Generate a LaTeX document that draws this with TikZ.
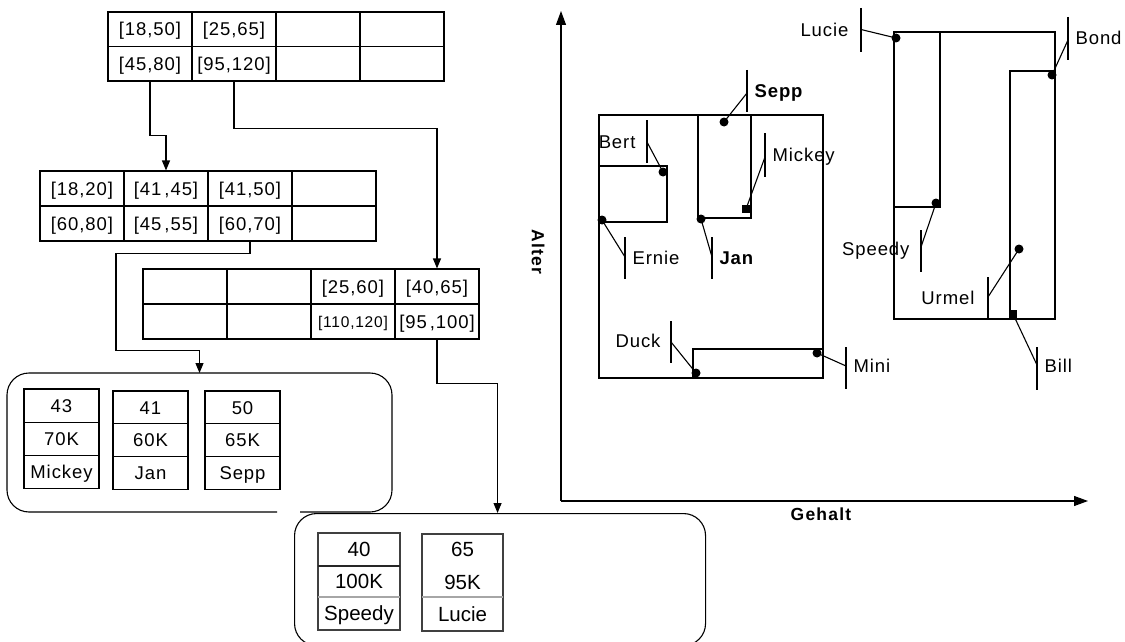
\documentclass[tikz,border=0pt]{standalone}
\usepackage{fontspec}
\setmainfont{Liberation Sans}
\newfontfamily\lsp[LetterSpace=5]{Liberation Sans}
\newfontfamily\lspb[LetterSpace=5]{Liberation Sans Bold}
\newfontfamily\lspa[LetterSpace=7]{Liberation Sans Bold}
\newcommand\fa{\lsp\fontsize{18.5}{21}\selectfont}
\newcommand\fsm{\lsp\fontsize{15.5}{18}\selectfont}
\newcommand\fbig{\fontsize{20.5}{24}\selectfont}
\newcommand\fbold{\lspb\fontsize{18.5}{21}\selectfont}
\newcommand\faxis{\lspa\fontsize{17.5}{20}\selectfont}
\usetikzlibrary{arrows.meta}
\begin{document}
\begin{tikzpicture}[x=1pt,y=-1pt,line width=1.1pt,
  cell/.style={draw, minimum width=84pt, minimum height=34.5pt, inner sep=0pt,
    font=\fa, text height=13.3pt, text depth=0pt},
  rec/.style={draw, minimum width=75pt, minimum height=33.3pt, inner sep=0pt,
    font=\fa, text height=13.3pt, text depth=0pt},
  bigtxt/.style={inner sep=0pt, font=\fbig, text height=14.7pt, text depth=0pt},
  lbl/.style={inner sep=0pt, font=\fa, text height=13.3pt, text depth=0pt},
  lblb/.style={inner sep=0pt, font=\fbold, text height=13.3pt, text depth=0pt},
  arr/.style={-{Triangle[length=10pt,width=8pt]}},
  axarr/.style={-{Triangle[length=14pt,width=10pt]}},
  dot/.style={circle, fill, inner sep=0pt, minimum size=9pt},
  sqdot/.style={rectangle, fill, inner sep=0pt, minimum size=8.5pt}
]
\useasboundingbox (0,0) rectangle (1125,642);

% ---------- top table ----------
\node[cell] (t1-11) at (150,29.25) {[18,50]};
\node[cell] (t1-12) at (234,29.25) {[25,65]};
\node[cell] (t1-13) at (318,29.25) {};
\node[cell] (t1-14) at (402,29.25) {};
\node[cell] (t1-21) at (150,63.75) {[45,80]};
\node[cell] (t1-22) at (234,63.75) {[95,120]};
\node[cell] (t1-23) at (318,63.75) {};
\node[cell] (t1-24) at (402,63.75) {};

% ---------- second table ----------
\node[cell, minimum height=35pt] (t2-11) at (82,188.5) {[18,20]};
\node[cell, minimum height=35pt] (t2-12) at (166,188.5) {[41\,,45]};
\node[cell, minimum height=35pt] (t2-13) at (250,188.5) {[41,50]};
\node[cell, minimum height=35pt] (t2-14) at (334,188.5) {};
\node[cell, minimum height=35pt] (t2-21) at (82,223.5) {[60,80]};
\node[cell, minimum height=35pt] (t2-22) at (166,223.5) {[45\,,55]};
\node[cell, minimum height=35pt] (t2-23) at (250,223.5) {[60,70]};
\node[cell, minimum height=35pt] (t2-24) at (334,223.5) {};

% ---------- third table ----------
\node[cell, minimum height=35pt] (t3-11) at (185,286.5) {};
\node[cell, minimum height=35pt] (t3-12) at (269,286.5) {};
\node[cell, minimum height=35pt] (t3-13) at (353,286.5) {[25,60]};
\node[cell, minimum height=35pt] (t3-14) at (437,286.5) {[40,65]};
\node[cell, minimum height=35pt] (t3-21) at (185,321.5) {};
\node[cell, minimum height=35pt] (t3-22) at (269,321.5) {};
\node[cell, minimum height=35pt, font=\fsm, text height=11.1pt] (t3-23) at (353,321.5) {[110,120]};
\node[cell, minimum height=35pt] (t3-24) at (437,321.5) {[95\,,100]};

% ---------- leaf box 1 ----------
\draw[rounded corners=22pt] (277,512) -| (7,373) -| (392,512) -- (300,512);
\coordinate (box1top) at (199.5,373);
\node[rec] (r1-1) at (61.5,405.65) {43};
\node[rec] (r1-2) at (61.5,438.95) {70K};
\node[rec] (r1-3) at (61.5,472.25) {Mickey};
\node[rec, minimum height=32.7pt] (r2-1) at (150.5,407.35) {41};
\node[rec, minimum height=32.7pt] (r2-2) at (150.5,440.05) {60K};
\node[rec, minimum height=32.7pt] (r2-3) at (150.5,472.75) {Jan};
\node[rec, minimum height=32.7pt] (r3-1) at (242.5,407.35) {50};
\node[rec, minimum height=32.7pt] (r3-2) at (242.5,440.05) {65K};
\node[rec, minimum height=32.7pt] (r3-3) at (242.5,472.75) {Sepp};

% ---------- leaf box 2 ----------
\node[draw, fill=white, rounded corners=22pt, minimum width=411pt, minimum height=132pt,
  inner sep=0pt, anchor=north west] (box2) at (294,513) {};
\node[draw=black!75, minimum width=82pt, minimum height=97pt, inner sep=0pt] (sp) at (359,581.5) {};
\draw[line width=2pt, black!85] (318,566) -- (400,566);
\draw[black!35] (318,597) -- (400,597);
\node[bigtxt] (sp1) at (359,549.5) {40};
\node[bigtxt] (sp2) at (359,581.5) {100K};
\node[bigtxt] (sp3) at (359,613.5) {Speedy};
\node[draw=black!75, minimum width=81pt, minimum height=97pt, inner sep=0pt] (lu) at (462.5,582.5) {};
\draw[black!35] (422,597) -- (503,597);
\node[bigtxt] (lu1) at (462.5,549.5) {65};
\node[bigtxt] (lu2) at (462.5,582) {95K};
\node[bigtxt] (lu3) at (462.5,614) {Lucie};

% ---------- tree connectors ----------
\draw[arr] (t1-21.south) -- ++(0,54) -| (t2-12.north);
\draw[arr] (t1-22.south) -- ++(0,47) -| (t3-14.north);
\draw[arr] (t2-23.south) -- ++(0,12) -- ++(-134,0) -- ++(0,97) -| (box1top);
\draw[arr] (t3-24.south) -- ++(0,44) -| ([xshift=-2.5pt]box2.north);

% ---------- chart axes ----------
\coordinate (O) at (561,501);
\coordinate (ytip) at (561,11);
\coordinate (xtip) at (1088,501);
\draw[axarr] (O) -- (ytip);
\draw[axarr] (O) -- (xtip);
\node[inner sep=0pt, font=\faxis, rotate=-90] (alter) at (538,252) {Alter};
\node[inner sep=0pt, font=\faxis] (gehalt) at (821,514) {Gehalt};

% ---------- rectangles ----------
\draw (599,115) rectangle (823,378);
\draw (599,166) -| (667,222) -- (599,222);
\draw (698,115) -- (698,218) -| (751,115);
\draw (823,349) -- (693,349) -- (693,378);
\draw (894,32) rectangle (1055,319);
\draw (940,32) -- (940,207) -- (894,207);
\draw (1055,71) -- (1010,71) -- (1010,319);

% ---------- points and labels ----------
% Sepp
\node[dot] (dSepp) at (724,122) {};
\coordinate (bSepp) at (747,93);
\draw (747,70) -- (747,112);
\draw (dSepp.center) -- (bSepp);
\node[lblb, anchor=west] (lSepp) at (754,91) {Sepp};
% Bert
\node[dot] (dBert) at (663,172) {};
\coordinate (bBert) at (647,142);
\draw (647,120) -- (647,163);
\draw (dBert.center) -- (bBert);
\node[lbl, anchor=east] (lBert) at (636,142) {Bert};
% Mickey
\node[sqdot] (dMickey) at (746,209) {};
\coordinate (bMickey) at (765,157);
\draw (765,133) -- (765,177);
\draw (dMickey.center) -- (bMickey);
\node[lbl, anchor=west] (lMickey) at (772,155) {Mickey};
% Ernie
\node[dot] (dErnie) at (602,220) {};
\coordinate (bErnie) at (625,257);
\draw (625,237) -- (625,279);
\draw (dErnie.center) -- (bErnie);
\node[lbl, anchor=west] (lErnie) at (632,258) {Ernie};
% Jan
\node[dot] (dJan) at (701,219) {};
\coordinate (bJan) at (712,257);
\draw (712,237) -- (712,279);
\draw (dJan.center) -- (bJan);
\node[lblb, anchor=west] (lJan) at (719,258) {Jan};
% Duck
\node[dot] (dDuck) at (696,373) {};
\coordinate (bDuck) at (671,342);
\draw (671,321) -- (671,363);
\draw (dDuck.center) -- (bDuck);
\node[lbl, anchor=east] (lDuck) at (661,341) {Duck};
% Mini
\node[dot] (dMini) at (817,353) {};
\coordinate (bMini) at (846,366);
\draw (846,347) -- (846,389);
\draw (dMini.center) -- (bMini);
\node[lbl, anchor=west] (lMini) at (853,366) {Mini};
% Lucie
\node[dot] (dLucie) at (896,38) {};
\coordinate (bLucie) at (861,29.5);
\draw (861,8) -- (861,52);
\draw (dLucie.center) -- (bLucie);
\node[lbl, anchor=east] (lLucie) at (849,30) {Lucie};
% Bond
\node[dot] (dBond) at (1052,75) {};
\coordinate (bBond) at (1068,40);
\draw (1068,17) -- (1068,60);
\draw (dBond.center) -- (bBond);
\node[lbl, anchor=west] (lBond) at (1075,38) {Bond};
% Speedy
\node[dot] (dSpeedy) at (936,203) {};
\coordinate (bSpeedy) at (921,247);
\draw (921,230) -- (921,272);
\draw (dSpeedy.center) -- (bSpeedy);
\node[lbl, anchor=east] (lSpeedy) at (910,249) {Speedy};
% Urmel
\node[dot] (dUrmel) at (1019,249) {};
\coordinate (bUrmel) at (988,297);
\draw (988,277) -- (988,319);
\draw (dUrmel.center) -- (bUrmel);
\node[lbl, anchor=east] (lUrmel) at (975,298) {Urmel};
% Bill
\node[sqdot] (dBill) at (1013,314) {};
\coordinate (bBill) at (1037,365);
\draw (1037,347) -- (1037,390);
\draw (dBill.center) -- (bBill);
\node[lbl, anchor=west] (lBill) at (1044,366) {Bill};

\end{tikzpicture}
\end{document}
